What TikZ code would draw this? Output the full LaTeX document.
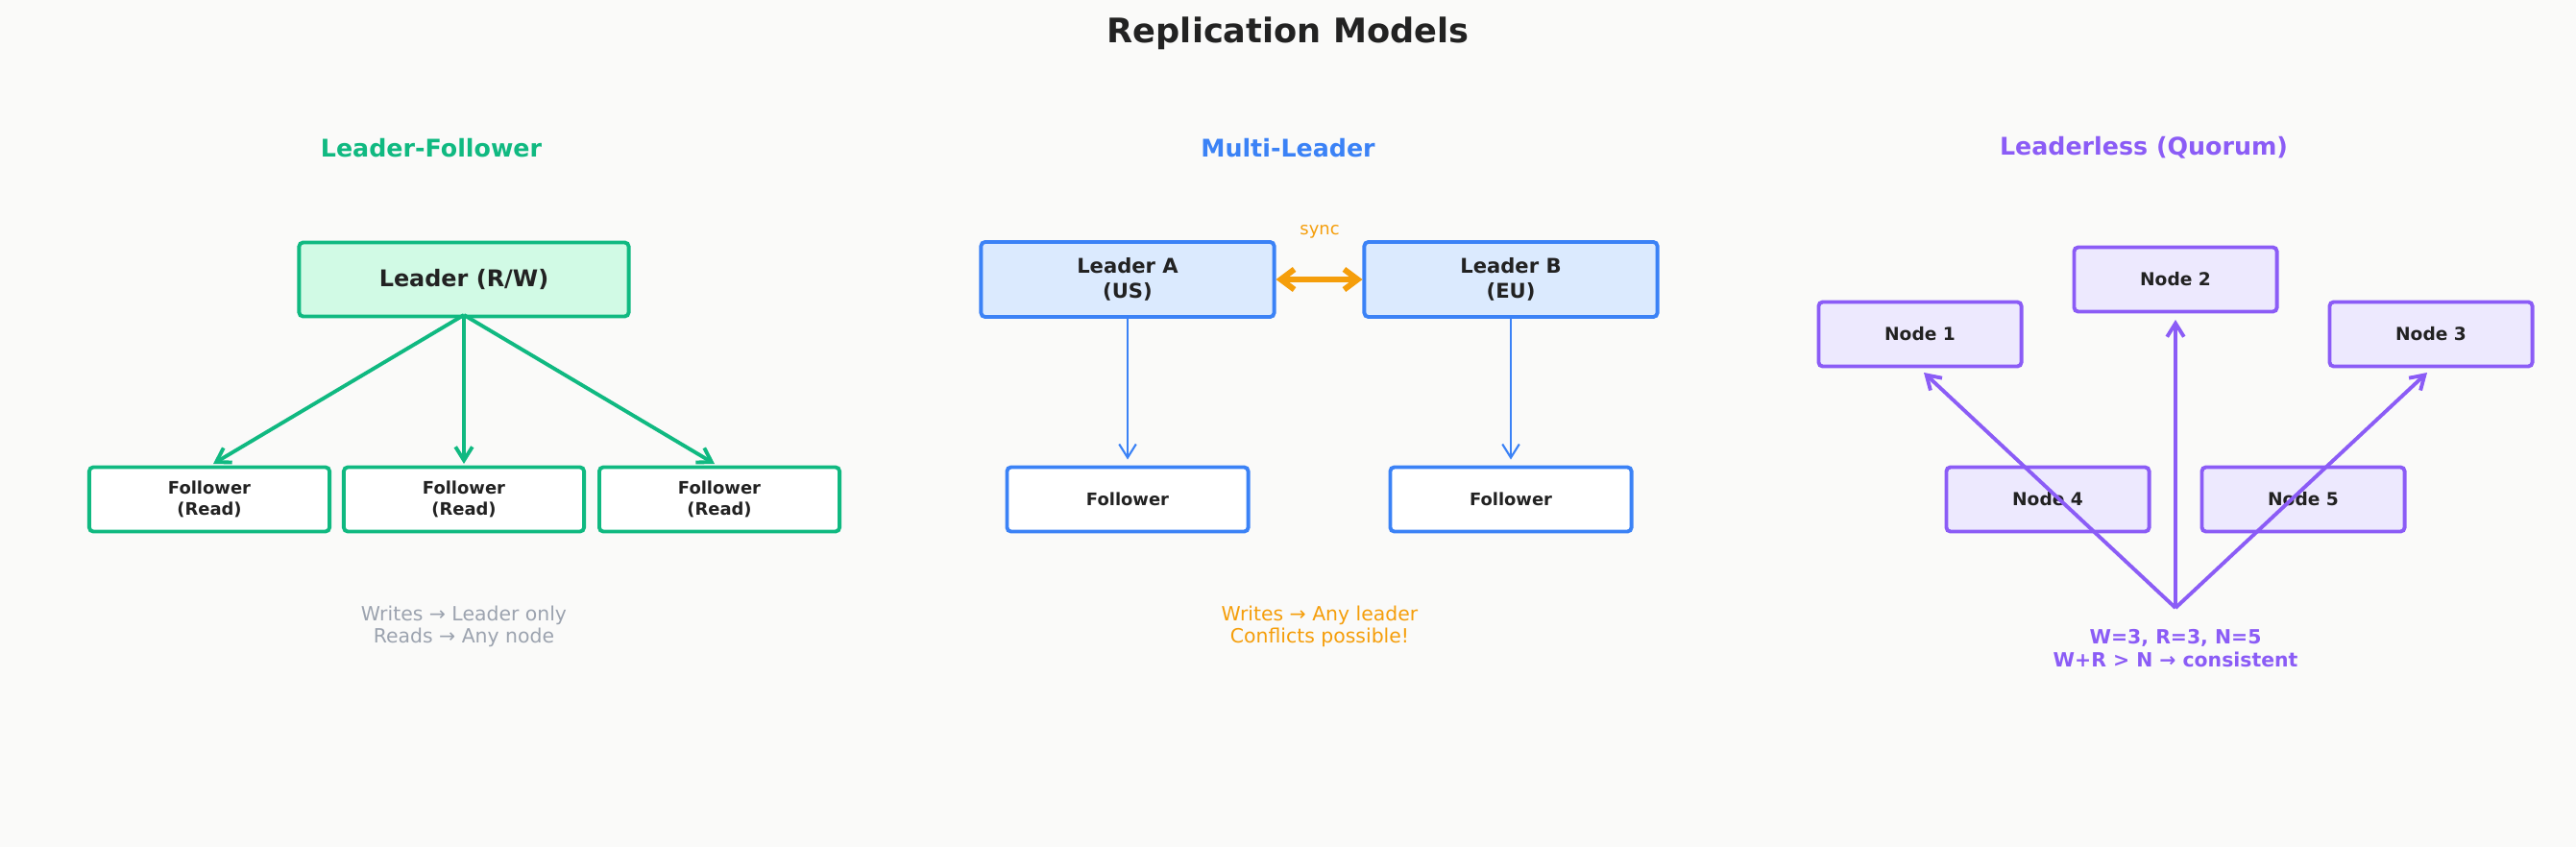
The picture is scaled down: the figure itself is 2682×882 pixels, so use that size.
\documentclass[tikz,border=0pt]{standalone}
\usepackage{fontspec}
\setmainfont{DejaVu Sans}
\usetikzlibrary{arrows.meta}
\definecolor{bg}{HTML}{FAFAF9}
\definecolor{gr}{HTML}{10B981}\definecolor{grf}{HTML}{D1FAE5}
\definecolor{bl}{HTML}{3B82F6}\definecolor{blf}{HTML}{DBEAFE}
\definecolor{pu}{HTML}{8B5CF6}\definecolor{puf}{HTML}{EDE9FE}
\definecolor{og}{HTML}{F59E0B}\definecolor{gy}{HTML}{9CA3AF}
\definecolor{tx}{HTML}{222222}
\tikzset{
 box/.style={draw,line width=1.1pt,rounded corners=1.2pt,inner sep=0pt,text=tx,font=\bfseries\fontsize{5.1}{6.3}\selectfont,align=center},
 head/.style={font=\bfseries\fontsize{7.2}{9}\selectfont},
 note/.style={font=\fontsize{5.8}{6.6}\selectfont,align=center},
 arr/.style={-{Straight Barb[length=4pt,width=5pt]},line width=1.1pt},
}
\begin{document}
\begin{tikzpicture}[x=0.01cm,y=-0.01cm]
\fill[bg] (0,0) rectangle (2682,882);
\useasboundingbox (0,0) rectangle (2682,882);
\node[font=\bfseries\fontsize{10}{12}\selectfont,text=tx] (title) at (1341,35) {Replication Models};
% Leader-Follower
\node[head,text=gr] (h1) at (449,154) {Leader-Follower};
\node[box,draw=gr,fill=grf,font=\bfseries\fontsize{6.8}{8}\selectfont,minimum width=3.43cm,minimum height=0.77cm] (L) at (483,291) {Leader (R/W)};
\foreach \n/\x in {f1/218,f2/483,f3/749}
 \node[box,draw=gr,fill=white,minimum width=2.5cm,minimum height=0.67cm] (\n) at (\x,520) {Follower\\(Read)};
\coordinate (ls) at (483,328);
\coordinate (e1) at (222,483);
\coordinate (e2) at (483,483);
\coordinate (e3) at (744,483);
\draw[arr,gr] (ls) -- (e1);
\draw[arr,gr] (ls) -- (e2);
\draw[arr,gr] (ls) -- (e3);
\node[note,text=gy] (n1) at (483,652) {Writes → Leader only\\Reads → Any node};
% Multi-Leader
\node[head,text=bl] (h2) at (1341,154) {Multi-Leader};
\node[box,draw=bl,fill=blf,minimum width=3.05cm,minimum height=0.78cm,font=\bfseries\fontsize{6}{7.6}\selectfont] (A) at (1174,291) {Leader A\\(US)};
\node[box,draw=bl,fill=blf,minimum width=3.05cm,minimum height=0.78cm,font=\bfseries\fontsize{6}{7.6}\selectfont] (B) at (1573,291) {Leader B\\(EU)};
\node[box,draw=bl,fill=white,minimum width=2.51cm,minimum height=0.67cm] (fa) at (1174,520) {Follower};
\node[box,draw=bl,fill=white,minimum width=2.51cm,minimum height=0.67cm] (fb) at (1573,520) {Follower};
\draw[{Straight Barb[length=4pt,width=6pt]}-{Straight Barb[length=4pt,width=6pt]},og,line width=1.7pt] (A) -- (B);
\node[font=\fontsize{5.1}{6}\selectfont,text=og] (sy) at (1374,241) {sync};
\draw[bl,line width=0.6pt,-{Straight Barb[length=4pt,width=5pt]}] (A) -- ([yshift=0.06cm]fa.north);
\draw[bl,line width=0.6pt,-{Straight Barb[length=4pt,width=5pt]}] (B) -- ([yshift=0.06cm]fb.north);
\node[note,text=og] (n2) at (1374,652) {Writes → Any leader\\Conflicts possible!};
% Leaderless
\node[head,text=pu] (h3) at (2232,154) {Leaderless (Quorum)};
\tikzset{nb/.style={box,draw=pu,fill=puf,minimum width=2.11cm,minimum height=0.67cm,font=\bfseries\fontsize{5.3}{6.5}\selectfont}}
\node[nb] (N2) at (2265,291) {Node 2};
\node[nb] (N1) at (1999,348) {Node 1};
\node[nb] (N3) at (2531,348) {Node 3};
\node[nb] (N4) at (2132,520) {Node 4};
\node[nb] (N5) at (2398,520) {Node 5};
\coordinate (q) at (2265,633);
\coordinate (t1) at (2003,388);
\coordinate (t2) at (2265,333);
\coordinate (t3) at (2527,388);
\draw[arr,pu] (q) -- (t1);
\draw[arr,pu] (q) -- (t2);
\draw[arr,pu] (q) -- (t3);
\node[note,text=pu,font=\bfseries\fontsize{5.8}{6.6}\selectfont] (n3) at (2265,675) {W=3, R=3, N=5\\W+R > N → consistent};
\end{tikzpicture}
\end{document}
